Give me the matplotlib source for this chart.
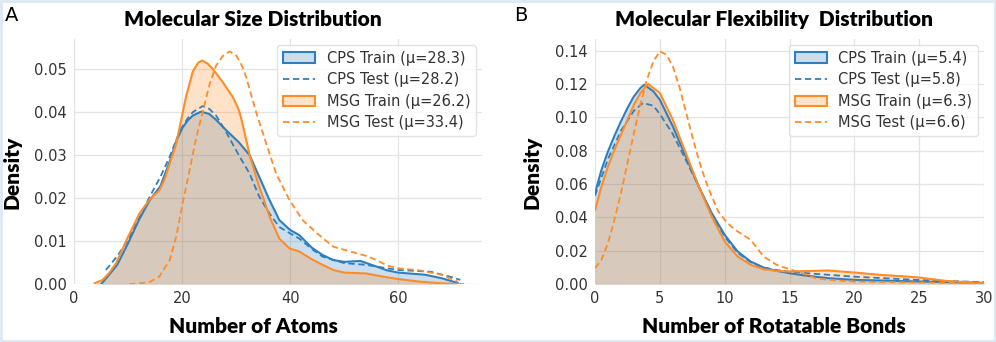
import matplotlib
matplotlib.use("Agg")
import matplotlib.pyplot as plt
from matplotlib.patches import Patch, Rectangle
from matplotlib.lines import Line2D

plt.rcParams["font.family"] = ["DejaVu Sans"]

# ---- panel A: number of atoms (density values) ----
atoms_cps_train_x = [5, 6.5, 8, 10, 12, 14, 16, 17.7, 19, 20, 21, 22, 23.5, 25, 26.3, 28, 30.5,
                     32.5, 34.3, 36.2, 38, 40, 41.7, 44, 46, 48, 50, 53, 56, 58, 60, 65, 68, 71]
atoms_cps_train_y = [0.0, 0.0022, 0.0045, 0.0095, 0.0149, 0.0195, 0.0228, 0.0285, 0.0335, 0.0362,
                     0.0380, 0.0392, 0.0401, 0.0396, 0.0382, 0.0360, 0.0330, 0.0300, 0.0249, 0.0195,
                     0.0149, 0.0126, 0.0114, 0.0085, 0.0068, 0.0056, 0.0052, 0.0054, 0.0041, 0.0032,
                     0.0027, 0.0022, 0.0014, 0.0003]

atoms_cps_test_x = [5.9, 8, 10, 12, 14, 16, 17.7, 19, 20, 21, 22, 23.8, 25, 26.3, 28, 30.5, 32.5,
                    34.3, 36.2, 38, 40, 41.7, 44, 46, 50, 54, 56, 60, 66, 70, 71.5]
atoms_cps_test_y = [0.0033, 0.0065, 0.0103, 0.0152, 0.0203, 0.0250, 0.0296, 0.0338, 0.0365, 0.0385,
                    0.0400, 0.0414, 0.0408, 0.0392, 0.0357, 0.0300, 0.0257, 0.0203, 0.0164, 0.0133,
                    0.0118, 0.0106, 0.0082, 0.0064, 0.0049, 0.0045, 0.0041, 0.0033, 0.0029, 0.0016,
                    0.0010]

atoms_msg_train_x = [3.8, 5.3, 6.5, 7.8, 10, 12.1, 14, 15.8, 16.8, 17.7, 18.9, 19.8, 20.7, 22, 23,
                     23.7, 24.7, 25.7, 27.5, 29.4, 30.4, 30.9, 31.7, 32.5, 34.3, 36.2, 38, 39.9,
                     41.7, 44, 46, 48, 50, 54, 57, 60, 64, 68, 72]
atoms_msg_train_y = [0.0002, 0.0010, 0.0026, 0.0049, 0.0110, 0.0164, 0.0197, 0.0218, 0.0245, 0.0280,
                     0.0326, 0.0380, 0.0434, 0.0495, 0.0515, 0.0520, 0.0513, 0.0500, 0.0470, 0.0435,
                     0.0408, 0.0388, 0.0345, 0.0300, 0.0226, 0.0157, 0.0106, 0.0083, 0.0076, 0.0058,
                     0.0045, 0.0033, 0.0027, 0.0025, 0.0018, 0.0012, 0.0006, 0.0002, 0.0]

atoms_msg_test_x = [10.2, 12, 14, 15.8, 17.7, 18.9, 20.1, 21.4, 22.6, 23.8, 25.1, 26.3, 27.5, 28.8,
                    30, 31, 31.9, 33.7, 35.6, 37.4, 39.9, 42.3, 45, 48, 50, 52, 54, 56, 58, 60, 64,
                    68, 71]
atoms_msg_test_y = [0.0, 0.0002, 0.0005, 0.0018, 0.0056, 0.0110, 0.0188, 0.0265, 0.0340, 0.0400,
                    0.0465, 0.0508, 0.0530, 0.0541, 0.0532, 0.0510, 0.0480, 0.0400, 0.0326, 0.0257,
                    0.0195, 0.0149, 0.0118, 0.0087, 0.0080, 0.0073, 0.0066, 0.0056, 0.0043, 0.0037,
                    0.0032, 0.0022, 0.0006]

# ---- panel B: rotatable bonds ----
bonds_cps_train_x = [0, 0.5, 1, 1.5, 2, 2.5, 3, 3.5, 3.8, 4.5, 5, 6, 7, 8, 9, 10, 11, 12, 13, 14,
                     15, 16, 18, 20, 25, 30]
bonds_cps_train_y = [0.0546, 0.0686, 0.0796, 0.0890, 0.0976, 0.1056, 0.1126, 0.1176, 0.1196, 0.1156,
                     0.1106, 0.0946, 0.0766, 0.0586, 0.0426, 0.0296, 0.0196, 0.0136, 0.0100, 0.0080,
                     0.0066, 0.0054, 0.0036, 0.0026, 0.0016, 0.0008]

bonds_cps_test_x = [0, 1, 2, 3, 3.7, 4.5, 5, 6, 7, 8, 9, 10, 11, 12, 13, 14, 15, 17, 20, 25, 30]
bonds_cps_test_y = [0.0530, 0.0750, 0.0920, 0.1040, 0.1086, 0.1070, 0.1020, 0.0900, 0.0746, 0.0586,
                    0.0420, 0.0285, 0.0188, 0.0132, 0.0100, 0.0085, 0.0075, 0.0062, 0.0045, 0.0025,
                    0.0012]

bonds_msg_train_x = [0, 0.5, 1, 1.5, 2, 2.5, 3, 3.5, 4.1, 5, 6, 7, 8, 9, 10, 11, 12, 13, 14, 15,
                     16, 18, 20, 22, 24, 25, 27, 30]
bonds_msg_train_y = [0.0446, 0.0586, 0.0706, 0.0806, 0.0896, 0.0986, 0.1076, 0.1146, 0.1200, 0.1146,
                     0.0986, 0.0786, 0.0586, 0.0406, 0.0256, 0.0166, 0.0116, 0.0090, 0.0080, 0.0076,
                     0.0078, 0.0082, 0.0070, 0.0056, 0.0046, 0.0040, 0.0020, 0.0006]

bonds_msg_test_x = [0, 0.5, 1, 1.5, 2, 2.5, 3, 3.5, 4, 4.5, 5, 5.5, 6, 6.5, 7, 7.5, 8, 8.5, 9, 9.5,
                    10, 10.5, 11, 12, 13, 14, 15, 16, 17, 18, 20, 25, 30]
bonds_msg_test_y = [0.0096, 0.0146, 0.0246, 0.0386, 0.0546, 0.0726, 0.0906, 0.1076, 0.1226, 0.1336,
                    0.1396, 0.1376, 0.1306, 0.1186, 0.1036, 0.0886, 0.0746, 0.0626, 0.0526, 0.0436,
                    0.0386, 0.0346, 0.0316, 0.0266, 0.0166, 0.0116, 0.0090, 0.0066, 0.0036, 0.0026,
                    0.0016, 0.0010, 0.0006]

atoms_labels = ["CPS Train (μ=28.3)", "CPS Test (μ=28.2)", "MSG Train (μ=26.2)", "MSG Test (μ=33.4)"]
bonds_labels = ["CPS Train (μ=5.4)", "CPS Test (μ=5.8)", "MSG Train (μ=6.3)", "MSG Test (μ=6.6)"]

BLUE = "#2f7fbf"
ORANGE = "#ff8c26"
HEAD_FONT = dict(family="Lato", fontweight="heavy", fontsize=15)


def draw_panel(ax, series, labels, title, xlabel, xlim, ylim, xticks, yticks, cx, ly):
    (ctx, cty), (cex, cey), (mtx, mty), (mex, mey) = series
    ax.fill_between(ctx, cty, color=BLUE, alpha=0.25, lw=0)
    ax.plot(ctx, cty, color=BLUE, lw=1.5)
    ax.plot(cex, cey, color=BLUE, lw=1.3, ls=(0, (3.5, 2)))
    ax.fill_between(mtx, mty, color=ORANGE, alpha=0.25, lw=0)
    ax.plot(mtx, mty, color=ORANGE, lw=1.5)
    ax.plot(mex, mey, color=ORANGE, lw=1.3, ls=(0, (3.5, 2)))

    ax.set_xlim(*xlim)
    ax.set_ylim(*ylim)
    ax.set_xticks(xticks)
    ax.set_yticks(yticks)
    ax.set_yticklabels([f"{v:.2f}" for v in yticks])
    ax.grid(True, color="#e3e3e3", lw=0.9)
    ax.set_axisbelow(True)
    for s in ax.spines.values():
        s.set_visible(False)
    ax.tick_params(length=0, labelsize=10.5, labelcolor="#333333", pad=5,
                   labelfontfamily="DejaVu Sans")

    # the reference centres its headings a little left of the plot area
    ax.set_title(title, x=cx, pad=9, **HEAD_FONT)
    ax.set_xlabel(xlabel, **HEAD_FONT)
    ax.xaxis.set_label_coords(cx, -0.135)
    ax.set_ylabel("Density", **HEAD_FONT)
    ax.yaxis.set_label_coords(ly, 0.457)

    handles = [
        Patch(facecolor=(0.184, 0.498, 0.749, 0.25), edgecolor=BLUE, lw=1.5),
        Line2D([0], [0], color=BLUE, lw=1.3, ls=(0, (3.5, 2))),
        Patch(facecolor=(1.0, 0.55, 0.15, 0.25), edgecolor=ORANGE, lw=1.5),
        Line2D([0], [0], color=ORANGE, lw=1.3, ls=(0, (3.5, 2))),
    ]
    leg = ax.legend(handles, labels, loc="upper right", frameon=True,
                    prop=dict(family="DejaVu Sans", size=10.5),
                    handlelength=2.2, borderaxespad=0.4, labelspacing=0.45)
    leg.get_frame().set_edgecolor("#dddddd")
    for t in leg.get_texts():
        t.set_color("#333333")


fig = plt.figure(figsize=(9.96, 3.42), dpi=100)
ax_a = fig.add_axes([0.0743, 0.169, 0.4096, 0.717])
ax_b = fig.add_axes([0.5974, 0.169, 0.3906, 0.717])

draw_panel(ax_a,
           [(atoms_cps_train_x, atoms_cps_train_y), (atoms_cps_test_x, atoms_cps_test_y),
            (atoms_msg_train_x, atoms_msg_train_y), (atoms_msg_test_x, atoms_msg_test_y)],
           atoms_labels, "Molecular Size Distribution", "Number of Atoms",
           (0, 75.5), (0, 0.057), [0, 20, 40, 60], [0.0, 0.01, 0.02, 0.03, 0.04, 0.05],
           cx=0.439, ly=-0.128)
draw_panel(ax_b,
           [(bonds_cps_train_x, bonds_cps_train_y), (bonds_cps_test_x, bonds_cps_test_y),
            (bonds_msg_train_x, bonds_msg_train_y), (bonds_msg_test_x, bonds_msg_test_y)],
           bonds_labels, "Molecular Flexibility  Distribution", "Number of Rotatable Bonds",
           (0, 30), (0, 0.147), [0, 5, 10, 15, 20, 25, 30],
           [0.0, 0.02, 0.04, 0.06, 0.08, 0.10, 0.12, 0.14],
           cx=0.46, ly=-0.138)

fig.text(0.005, 0.955, "A", fontsize=14, family="DejaVu Sans", ha="left", va="center")
fig.text(0.516, 0.955, "B", fontsize=14, family="DejaVu Sans", ha="left", va="center")

# light frame round the whole picture
fig.patches.append(Rectangle((0.001, 0.002), 0.998, 0.996, transform=fig.transFigure,
                             fill=False, edgecolor="#dbe8f4", lw=2))

fig.savefig("out.png", dpi=100)
